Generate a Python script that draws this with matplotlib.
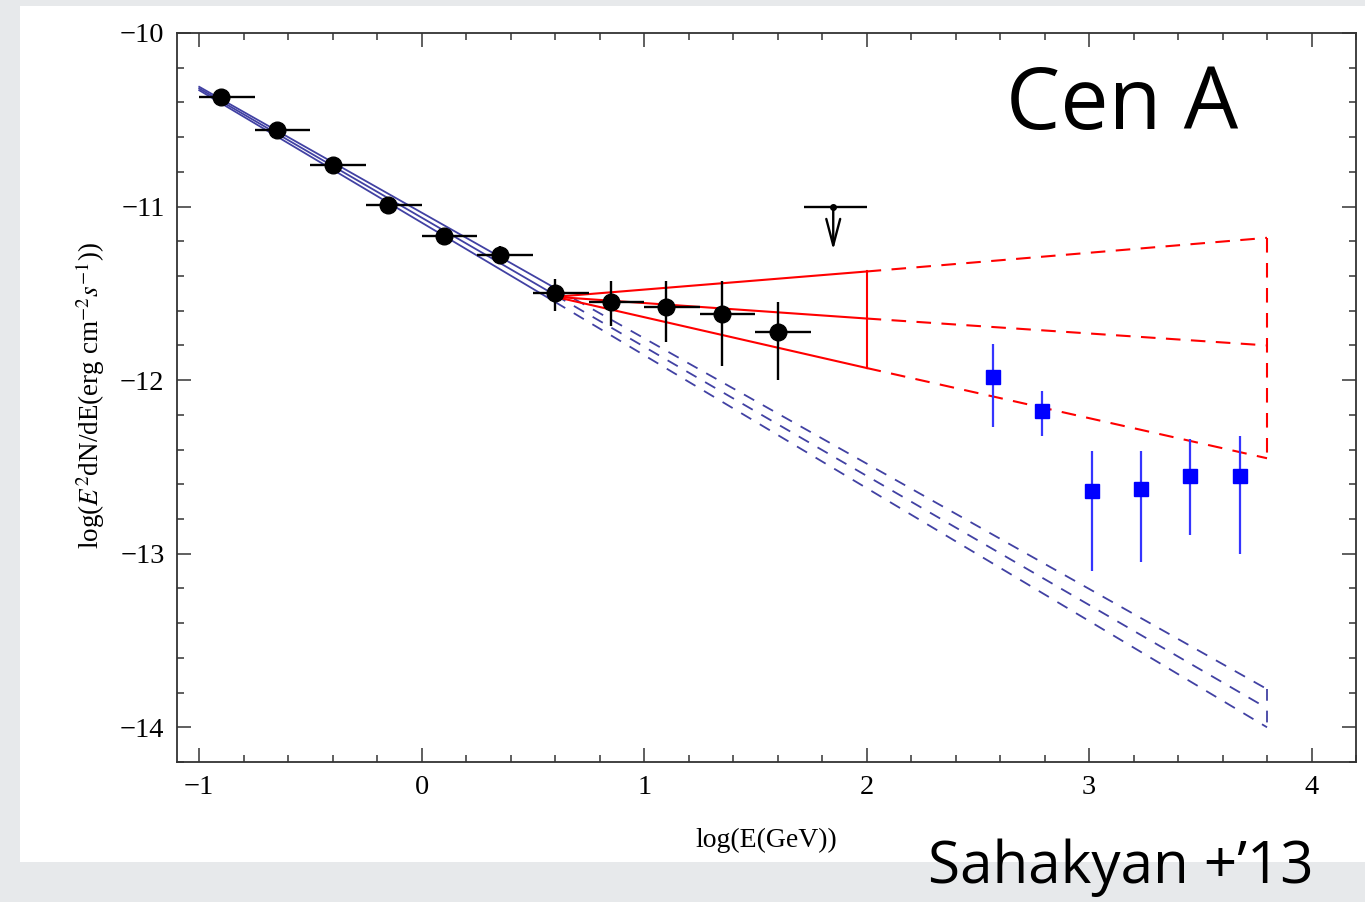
import matplotlib
matplotlib.use('Agg')
import matplotlib.pyplot as plt
from matplotlib.patches import Rectangle
from matplotlib.ticker import MultipleLocator

# ---- data (log E [GeV], log E^2 dN/dE [erg cm^-2 s^-1]) ----
fermi_x = [-0.9, -0.65, -0.4, -0.15, 0.1, 0.35, 0.6, 0.85, 1.1, 1.35, 1.6]
fermi_y = [-10.37, -10.56, -10.76, -10.99, -11.17, -11.28, -11.50, -11.55, -11.58, -11.62, -11.72]
fermi_xerr_lo = [0.1] * 11
fermi_xerr_hi = [0.15] * 11
fermi_yerr_lo = [0.02, 0.02, 0.02, 0.02, 0.03, 0.05, 0.10, 0.14, 0.20, 0.30, 0.28]
fermi_yerr_hi = [0.02, 0.02, 0.02, 0.02, 0.03, 0.05, 0.08, 0.12, 0.15, 0.19, 0.17]

ul_x = [1.85]
ul_y = [-11.0]
ul_xerr_lo = [0.13]
ul_xerr_hi = [0.15]
ul_arrow_end = [-11.25]

hess_x = [2.57, 2.79, 3.015, 3.235, 3.456, 3.68]
hess_y = [-11.98, -12.18, -12.64, -12.63, -12.55, -12.55]
hess_yerr_hi = [0.19, 0.12, 0.23, 0.22, 0.21, 0.23]
hess_yerr_lo = [0.29, 0.14, 0.46, 0.42, 0.34, 0.45]

# low-energy power law (solid up to 0.6, extrapolated dashed to 3.8)
blue_x = [-1.0, 0.6, 3.8]
blue_mid = [-10.32, -11.51, -13.89]
blue_hi = [-10.31, -11.47, -13.78]
blue_lo = [-10.33, -11.55, -14.00]

# high-energy power law (solid up to 2.0, extrapolated dashed to 3.8)
red_x = [0.6, 2.0, 3.8]
red_hi = [-11.52, -11.374, -11.18]
red_mid = [-11.52, -11.645, -11.80]
red_lo = [-11.52, -11.93, -12.45]

title_text = "Cen A"
credit_text = "Sahakyan +\u201913"
xlabel_text = "log(E(GeV))"
ylabel_text = r"log($E^2$dN/dE(erg cm$^{-2}$$s^{-1}$))"

# ---- figure ----
W, H = 1365, 902
plt.rcParams['mathtext.fontset'] = 'stix'
plt.rcParams['font.family'] = ['Liberation Serif', 'DejaVu Serif']

fig = plt.figure(figsize=(W / 100, H / 100), dpi=100, facecolor='#e7e9eb')
fig.patches.append(Rectangle((20 / W, 1 - 862 / H), 1 - 20 / W, (862 - 6) / H,
                             transform=fig.transFigure, facecolor='white',
                             edgecolor='none', zorder=-10))

ax = fig.add_axes([177 / W, 1 - 762 / H, (1356 - 177) / W, (762 - 33) / H])
ax.set_zorder(5)
ax.patch.set_alpha(0)
ax.set_xlim(-1.1, 4.2)
ax.set_ylim(-14.2, -10.0)

blue_c = '#4141a3'
red_c = '#ff0000'
blue_dash = (0, (6.5, 5.5))
red_dash = (0, (7, 5))

# blue power law
for yy in (blue_hi, blue_mid, blue_lo):
    ax.plot(blue_x[:2], yy[:2], color=blue_c, lw=1.3, zorder=2)
    ax.plot(blue_x[1:], yy[1:], color=blue_c, lw=1.3, ls=blue_dash, zorder=2)
ax.plot([blue_x[-1], blue_x[-1]], [blue_hi[-1], blue_lo[-1]], color=blue_c, lw=1.3, ls=blue_dash, zorder=2)

# red power law
for yy in (red_hi, red_mid, red_lo):
    ax.plot(red_x[:2], yy[:2], color=red_c, lw=1.5, zorder=3)
    ax.plot(red_x[1:], yy[1:], color=red_c, lw=1.5, ls=red_dash, zorder=3)
ax.plot([red_x[1], red_x[1]], [red_hi[1], red_lo[1]], color=red_c, lw=1.5, zorder=3)
ax.plot([red_x[2], red_x[2]], [red_hi[2], red_lo[2]], color=red_c, lw=1.5, ls=red_dash, zorder=3)

# Fermi points
ax.errorbar(fermi_x, fermi_y, xerr=[fermi_xerr_lo, fermi_xerr_hi],
            yerr=[fermi_yerr_lo, fermi_yerr_hi], fmt='o', color='black',
            ms=12, elinewidth=1.7, capsize=0, zorder=5)

# upper limit
ax.errorbar(ul_x, ul_y, xerr=[ul_xerr_lo, ul_xerr_hi], fmt='o', color='black',
            ms=4, elinewidth=1.7, capsize=0, zorder=5)
ax.annotate('', xy=(ul_x[0], ul_arrow_end[0]), xytext=(ul_x[0], ul_y[0]),
            arrowprops=dict(arrowstyle='->,head_length=1.9,head_width=0.5',
                            color='black', lw=1.7, shrinkA=0, shrinkB=0),
            zorder=5)

# HESS points
ax.errorbar(hess_x, hess_y, yerr=[hess_yerr_lo, hess_yerr_hi], fmt='s',
            color='#0000ff', ecolor='#3535ff', ms=10, elinewidth=1.6,
            capsize=0, zorder=5)

# axes styling
ax.set_xticks([-1, 0, 1, 2, 3, 4])
ax.set_yticks([-10, -11, -12, -13, -14])
ax.xaxis.set_minor_locator(MultipleLocator(0.2))
ax.yaxis.set_minor_locator(MultipleLocator(0.2))
ax.tick_params(which='both', direction='in', top=True, right=True, color='#444444', width=1.2)
ax.tick_params(which='major', length=10, labelsize=20.5, pad=9)
ax.tick_params(which='minor', length=5)
for s in ax.spines.values():
    s.set_linewidth(1.3)
    s.set_color('#333333')

fig.text(766 / W, 1 - 840 / H, xlabel_text, ha='center', va='center', fontsize=20)
fig.text(90 / W, 1 - 395 / H, ylabel_text, ha='center', va='center', rotation=90, fontsize=19.5)

fig.text(1122 / W, 1 - 107 / H, title_text, ha='center', va='center', fontsize=62,
         family=['Open Sans', 'DejaVu Sans'])
fig.text(1121 / W, 1 - 868 / H, credit_text, ha='center', va='center', fontsize=42,
         family=['Open Sans', 'DejaVu Sans'])

fig.savefig('out.png', dpi=100, facecolor=fig.get_facecolor())
